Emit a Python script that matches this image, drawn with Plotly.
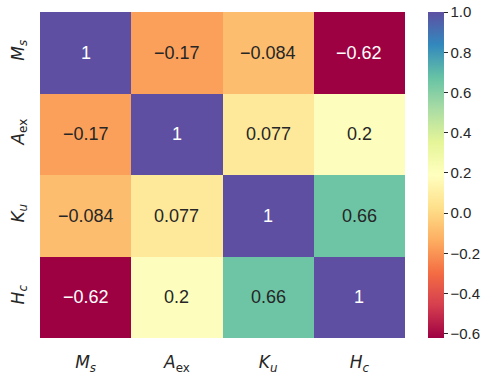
import plotly.graph_objects as go

# Correlation matrix of magnetic parameters
labels = ["<i>M</i><sub><i>s</i></sub>", "<i>A</i><sub>ex</sub>",
          "<i>K</i><sub><i>u</i></sub>", "<i>H</i><sub><i>c</i></sub>"]
row_ms = [1.0, -0.17, -0.084, -0.62]
row_aex = [-0.17, 1.0, 0.077, 0.2]
row_ku = [-0.084, 0.077, 1.0, 0.66]
row_hc = [-0.62, 0.2, 0.66, 1.0]
corr = [row_ms, row_aex, row_ku, row_hc]

colorbar_ticks = [-0.6, -0.4, -0.2, 0.0, 0.2, 0.4, 0.6, 0.8, 1.0]

spectral = ["#9e0142", "#d53e4f", "#f46d43", "#fdae61", "#fee08b", "#ffffbf",
            "#e6f598", "#abdda4", "#66c2a5", "#3288bd", "#5e4fa2"]
zmin, zmax = -0.62, 1.0
scale = [[i / (len(spectral) - 1), c] for i, c in enumerate(spectral)]

idx = list(range(len(labels)))


def fmt(v):
    s = f"{v:.2g}"
    return s.replace("-", "\u2212")


fig = go.Figure(go.Heatmap(
    z=corr, x=idx, y=idx, zmin=zmin, zmax=zmax, colorscale=scale,
    showscale=True,
    colorbar=dict(
        x=1.06, xanchor="left", xpad=0, ypad=0,
        y=0, yanchor="bottom", len=1, lenmode="fraction",
        thickness=16, outlinewidth=0, ticks="outside", ticklen=4,
        tickcolor="#262626", tickvals=colorbar_ticks,
        ticktext=[f"{t:.1f}".replace("-", "\u2212") for t in colorbar_ticks],
        tickfont=dict(family="Arial, Liberation Sans", size=15, color="#262626"),
    ),
))

# Cell annotations: light text on dark cells, dark text elsewhere
for i, row in enumerate(corr):
    for j, v in enumerate(row):
        norm = (v - zmin) / (zmax - zmin)
        dark = norm < 0.12 or norm > 0.88
        fig.add_annotation(
            x=j, y=i, text=fmt(v), showarrow=False,
            font=dict(family="Arial, Liberation Sans", size=18,
                      color="white" if dark else "#262626"),
        )

fig.update_xaxes(
    tickvals=idx, ticktext=labels, showgrid=False, zeroline=False,
    ticks="", ticklabelstandoff=12, automargin=False,
    tickfont=dict(family="DejaVu Sans", size=17, color="#262626"),
    range=[-0.5, 3.5],
)
fig.update_yaxes(
    tickvals=idx, ticktext=labels, showgrid=False, zeroline=False,
    ticks="", autorange="reversed", tickangle=-90, ticklabelstandoff=12,
    automargin=False,
    tickfont=dict(family="DejaVu Sans", size=17, color="#262626"),
)
fig.update_layout(
    width=492, height=375,
    margin=dict(l=40, r=86, t=12, b=37),
    paper_bgcolor="white", plot_bgcolor="white",
)

fig.write_html("out.html")
